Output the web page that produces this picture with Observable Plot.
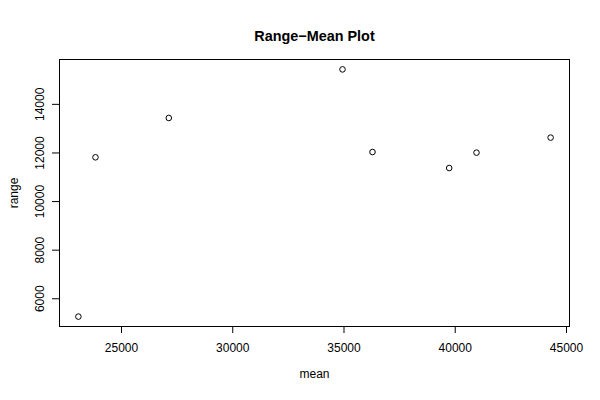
<!DOCTYPE html>
<html>
<head>
<meta charset="utf-8">
<script src="https://cdn.jsdelivr.net/npm/d3@7"></script>
<script src="https://cdn.jsdelivr.net/npm/@observablehq/plot@0.6"></script>
<style>
  html, body { margin: 0; padding: 0; background: #ffffff; }
  #chart { width: 600px; height: 400px; }
</style>
</head>
<body>
<div id="chart"></div>
<script>
// Data
const means  = [23063, 23831, 27126, 34933, 36281, 39728, 40955, 44286];
const ranges = [5266, 11821, 13440, 15439, 12039, 11380, 12014, 12632];
const xTicks = [25000, 30000, 35000, 40000, 45000];
const yTicks = [6000, 8000, 10000, 12000, 14000];
const title = "Range\u2212Mean Plot";
const xLabel = "mean";
const yLabel = "range";

const points = means.map((m, i) => ({mean: m, range: ranges[i]}));

// R-style 4% axis extension around data range
function rDomain(vals) {
  const lo = d3.min(vals), hi = d3.max(vals), pad = (hi - lo) * 0.04;
  return [lo - pad, hi + pad];
}
const xDomain = rDomain(means);
const yDomain = rDomain(ranges);

const font = "'Liberation Sans', Arial, Helvetica, sans-serif";

const chart = Plot.plot({
  width: 600,
  height: 400,
  marginLeft: 59,
  marginRight: 31,
  marginTop: 59,
  marginBottom: 74,
  style: {fontFamily: font, fontSize: "12px", background: "#ffffff", color: "#000000"},
  x: {domain: xDomain},
  y: {domain: yDomain},
  marks: [
    Plot.frame({stroke: "#000000", strokeWidth: 1}),
    Plot.axisX(xTicks, {tickSize: 7, tickPadding: 10, tickFormat: d => String(d), label: null, fontSize: 12, stroke: "#000000"}),
    Plot.axisY(yTicks, {tickSize: 7, tickFormat: () => "", label: null, stroke: "#000000"}),
    Plot.text(yTicks, {y: d => d, text: d => String(d), frameAnchor: "left", textAnchor: "middle", lineAnchor: "middle", dx: -19, rotate: -90, fontSize: 12, fill: "#000000"}),
    Plot.ruleY([yDomain[0]], {x1: xTicks[0], x2: xTicks[xTicks.length - 1], stroke: "#000000"}),
    Plot.ruleX([xDomain[0]], {y1: yTicks[0], y2: yTicks[yTicks.length - 1], stroke: "#000000"}),
    Plot.dot(points, {x: "mean", y: "range", r: 2.8, stroke: "#000000", fill: "none", strokeWidth: 1}),
    Plot.text([title], {text: d => d, frameAnchor: "top", dy: -29, fontWeight: "bold", fontSize: 14.4, fill: "#000000"}),
    Plot.text([xLabel], {text: d => d, frameAnchor: "bottom", dy: 51, fontSize: 12, fill: "#000000"}),
    Plot.text([yLabel], {text: d => d, frameAnchor: "left", textAnchor: "middle", lineAnchor: "middle", dx: -45, rotate: -90, fontSize: 12, fill: "#000000"})
  ]
});
document.getElementById("chart").appendChild(chart);
</script>
</body>
</html>
